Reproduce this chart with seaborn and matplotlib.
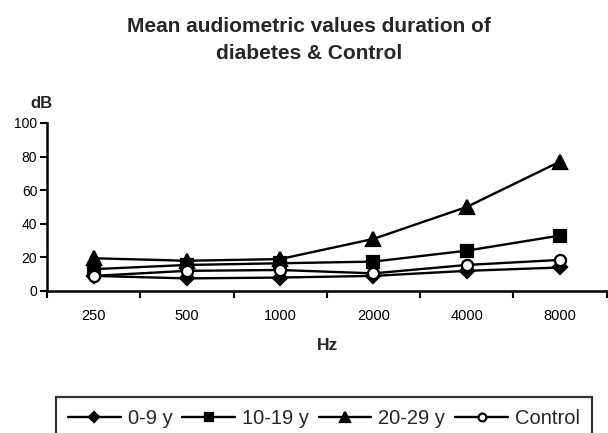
import matplotlib
matplotlib.use("Agg")
import matplotlib.pyplot as plt
import seaborn as sns
import pandas as pd
from matplotlib.ticker import FixedLocator

freqs = ["250", "500", "1000", "2000", "4000", "8000"]
g_0_9 = [9, 7.5, 8, 9, 12, 14]
g_10_19 = [13, 15.5, 16.5, 17.5, 24, 33]
g_20_29 = [19.5, 18, 19, 31, 50, 77]
control = [9, 12, 12.5, 10.5, 15.5, 18.5]
series_names = ["0-9 y", "10-19 y", "20-29 y", "Control"]

sns.set_theme(style="white")
plt.rcParams["font.family"] = ["Liberation Sans", "DejaVu Sans"]

rows = []
for name, vals in zip(series_names, [g_0_9, g_10_19, g_20_29, control]):
    for i, (f, v) in enumerate(zip(freqs, vals)):
        rows.append({"pos": i, "Hz": f, "dB": v, "group": name})
df = pd.DataFrame(rows)

fig = plt.figure(figsize=(6.08, 4.33), dpi=100)
ax = fig.add_axes([47/608, 1-291/433, (606.5-47)/608, (291-123)/433])

markers = {"0-9 y": "D", "10-19 y": "s", "20-29 y": "^", "Control": "o"}
sizes = {"D": 7.5, "s": 9, "^": 10, "o": 8}
for name in series_names:
    sub = df[df.group == name]
    mfc = "white" if name == "Control" else "black"
    m = markers[name]
    sns.lineplot(data=sub, x="pos", y="dB", ax=ax, color="black", lw=1.7,
                 marker=m, markersize=sizes[m], markerfacecolor=mfc,
                 markeredgecolor="black", markeredgewidth=1.6, label=name,
                 legend=False, zorder=3, clip_on=False)

ax.set_xlim(-0.5, 5.5)
ax.set_ylim(0, 100)
ax.set_yticks([0, 20, 40, 60, 80, 100])
ax.set_xticks(range(len(freqs)))
ax.set_xticklabels(freqs)
ax.xaxis.set_minor_locator(FixedLocator([i - 0.5 for i in range(len(freqs) + 1)]))
ax.tick_params(axis="x", which="major", length=0, pad=13, labelsize=10.5, colors="black")
ax.tick_params(axis="x", which="minor", length=5, width=1.5, direction="out", color="black", bottom=True)
ax.tick_params(axis="y", length=5, width=1.5, direction="out", labelsize=10, pad=2, colors="black", left=True)

for s in ["top", "right"]:
    ax.spines[s].set_visible(False)
for s in ["left", "bottom"]:
    ax.spines[s].set_color("black")
    ax.spines[s].set_linewidth(1.8)

ax.set_xlabel("")
ax.set_ylabel("")
fig.text(41/608, 1-103/433, "dB", ha="center", va="center", fontsize=12, fontweight="bold")
fig.text(327/608, 1-345/433, "Hz", ha="center", va="center", fontsize=12.5, fontweight="bold")
fig.text(309/608, 1-40/433, "Mean audiometric values duration of\ndiabetes & Control",
         ha="center", va="center", fontsize=15, fontweight="bold", linespacing=1.5)

handles, labels = ax.get_legend_handles_labels()
leg = fig.legend(handles, labels, loc="upper center", bbox_to_anchor=(324/608, 1-397/433),
                 ncol=4, frameon=True, fontsize=14.5, handlelength=2.6, handletextpad=0.35,
                 columnspacing=0.5, borderpad=0.6, borderaxespad=0, fancybox=False,
                 markerscale=0.7)
leg.get_frame().set_edgecolor("black")
leg.get_frame().set_linewidth(1.6)

fig.savefig("out.png", dpi=100)
